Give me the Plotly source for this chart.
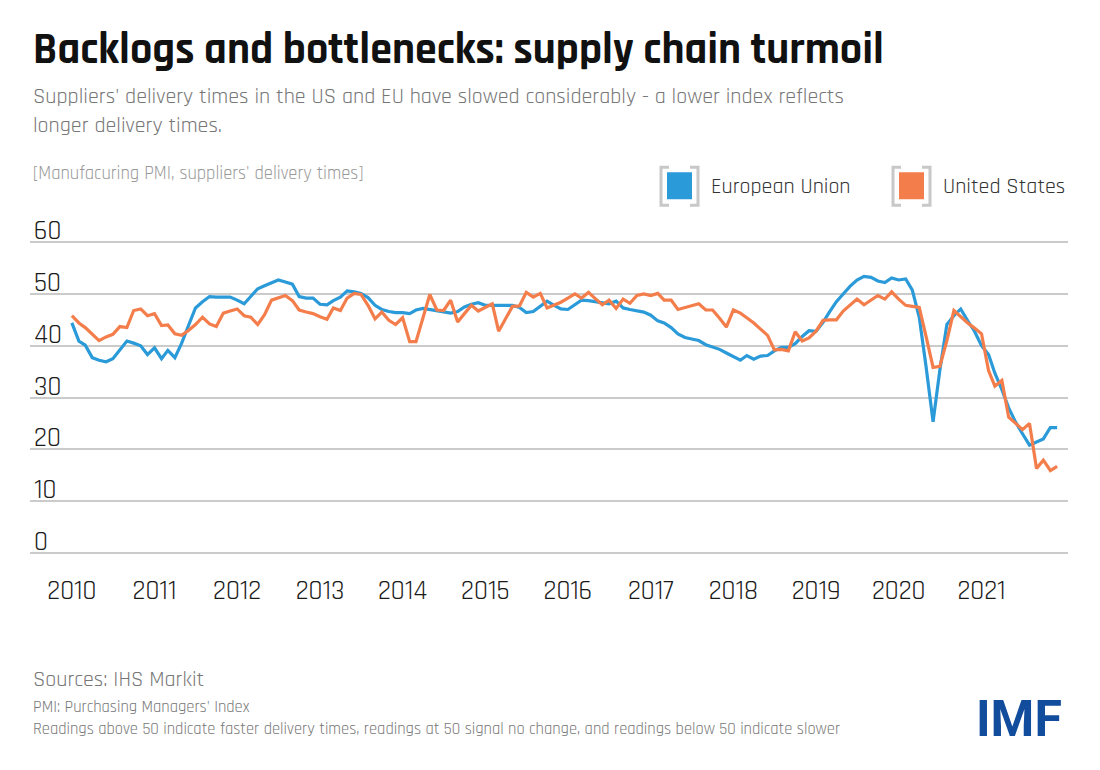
import pandas as pd
import plotly.graph_objects as go

# monthly readings, Jan 2010 - Dec 2021
months = pd.date_range("2010-01-01", "2021-12-01", freq="MS")

eu = [
    44.4, 40.9, 40.1, 37.7, 37.2, 36.9, 37.5, 39.2, 40.9, 40.5, 40.0, 38.3,
    39.6, 37.5, 39.1, 37.7, 40.5, 44.0, 47.3, 48.5, 49.5, 49.4, 49.4, 49.4,
    48.8, 48.1, 49.5, 51.0, 51.6, 52.2, 52.7, 52.3, 51.9, 49.5, 49.2, 49.2,
    48.0, 47.9, 48.7, 49.4, 50.6, 50.4, 50.1, 49.3, 47.8, 47.0, 46.6, 46.4,
    46.4, 46.2, 46.9, 47.2, 47.0, 46.8, 46.5, 46.3, 46.6, 47.5, 48.0, 48.3,
    47.8, 47.8, 47.7, 47.7, 47.8, 47.4, 46.4, 46.6, 47.6, 48.6, 47.8, 47.1,
    47.0, 47.9, 48.8, 48.7, 48.5, 48.3, 48.1, 48.6, 47.3, 47.0, 46.8, 46.5,
    45.9, 44.8, 44.4, 43.5, 42.3, 41.6, 41.3, 41.0, 40.2, 39.8, 39.3, 38.6,
    37.9, 37.2, 38.1, 37.4, 38.0, 38.1, 39.0, 39.7, 39.7, 40.4, 41.8, 42.9,
    42.8, 44.5, 46.5, 48.5, 50.0, 51.5, 52.7, 53.4, 53.2, 52.5, 52.2, 53.1,
    52.7, 52.9, 50.8, 45.5, 36.0, 25.3, 35.3, 44.1, 45.8, 47.1, 44.8, 42.8,
    40.0, 38.3, 34.7, 31.5, 28.0, 25.2, 23.0, 20.8, 21.4, 22.0, 24.2, 24.2,
]

us = [
    45.8, 44.4, 43.5, 42.2, 41.0, 41.7, 42.2, 43.7, 43.5, 46.8, 47.1, 45.8,
    46.2, 43.9, 44.0, 42.3, 42.0, 43.0, 44.1, 45.5, 44.2, 43.7, 46.3, 46.7,
    47.1, 45.8, 45.5, 44.1, 46.0, 48.8, 49.3, 49.7, 48.7, 46.9, 46.5, 46.2,
    45.6, 45.1, 47.3, 46.8, 49.2, 50.1, 49.9, 47.8, 45.2, 46.5, 44.9, 44.1,
    45.4, 40.8, 40.8, 45.3, 49.9, 46.9, 46.8, 48.8, 44.6, 46.2, 47.8, 46.7,
    47.4, 48.1, 42.8, 45.2, 47.6, 47.7, 50.3, 49.4, 50.1, 47.3, 47.9, 48.4,
    49.2, 50.0, 49.2, 50.3, 49.1, 47.9, 48.8, 47.2, 49.0, 48.2, 49.7, 50.0,
    49.7, 50.1, 48.8, 48.8, 47.0, 47.4, 47.8, 48.1, 46.9, 46.9, 45.3, 43.6,
    46.9, 46.3, 45.4, 44.4, 43.2, 42.0, 39.2, 39.3, 39.0, 42.7, 40.9, 41.5,
    42.8, 44.9, 45.0, 45.0, 46.7, 47.8, 49.0, 47.9, 48.8, 49.7, 49.0, 50.4,
    49.0, 47.8, 47.6, 47.4, 41.8, 35.8, 36.0, 41.0, 46.8, 45.6, 44.4, 43.4,
    42.3, 35.2, 32.2, 33.3, 26.2, 25.0, 23.8, 25.0, 16.3, 17.9, 15.9, 16.7,
]

years = [str(y) for y in range(2010, 2022)]
year_starts = [f"{y}-01-01" for y in years]
y_ticks = [0, 10, 20, 30, 40, 50, 60]

EU_COL = "#2b9ad8"
US_COL = "#f47e4b"
FONT = "Rajdhani, Roboto, sans-serif"

# the page adds an 8px body margin, so work in page pixels and shift
OFF = 8
PAD = 5.2  # one y unit in pixels; y range padded by 1 unit each side
L, R = 30 - OFF, 1068 - OFF
T, B = 242 - PAD - OFF, 553 + PAD - OFF


def px(x):
    return (x - OFF - L) / (R - L)


def py(y):
    return (B - (y - OFF)) / (B - T)


fig = go.Figure()
fig.add_trace(go.Scatter(x=months, y=eu, mode="lines", name="European Union",
                         line=dict(color=EU_COL, width=3.2), cliponaxis=False))
fig.add_trace(go.Scatter(x=months, y=us, mode="lines", name="United States",
                         line=dict(color=US_COL, width=3.2), cliponaxis=False))

fig.update_layout(
    width=1100, height=770,
    margin=dict(l=L, r=1100 - R, t=T, b=770 - B),
    plot_bgcolor="white", paper_bgcolor="white",
    showlegend=False,
    font=dict(family=FONT, color="#222"),
)
fig.update_xaxes(range=["2009-06-30", "2022-01-18"], showgrid=False,
                 zeroline=False, showline=False,
                 tickvals=year_starts, ticktext=years,
                 tickfont=dict(size=27, color="#1a1a1a"),
                 ticklabelstandoff=13)
fig.update_yaxes(range=[-1, 61], tickvals=y_ticks, showticklabels=False,
                 showgrid=True, gridcolor="#cbcbcb", gridwidth=1.6,
                 zeroline=False, showline=False)

ann = []
for v in y_ticks:
    ann.append(dict(x=px(32), y=v, xref="paper", yref="y", text=str(v),
                    showarrow=False, xanchor="left", yanchor="bottom",
                    yshift=-8, font=dict(size=27, color="#1a1a1a")))


def txt(x, y, s, size, color, family=FONT):
    ann.append(dict(x=px(x), y=py(y), xref="paper", yref="paper", text=s,
                    showarrow=False, xanchor="left", yanchor="middle",
                    font=dict(size=size, color=color, family=family)))


txt(31, 50, "<b>Backlogs and bottlenecks: supply chain turmoil</b>", 44, "#111")
txt(31, 97, "Suppliers' delivery times in the US and EU have slowed considerably - a lower index reflects",
    22, "#777")
txt(31, 126, "longer delivery times.", 22, "#777")
txt(31, 173, "[Manufacuring PMI, suppliers' delivery times]", 18.5, "#999")
txt(709, 187, "European Union", 22, "#333")
txt(941, 187, "United States", 22, "#333")
txt(31, 680, "Sources: IHS Markit", 22, "#777")
txt(31, 708, "PMI: Purchasing Managers' Index", 16.5, "#777")
txt(31, 730, "Readings above 50 indicate faster delivery times, readings at 50 signal no change, "
    "and readings below 50 indicate slower", 16.5, "#777")
txt(974, 719, "<b>IMF</b>", 50, "#124c9c", family="Roboto, sans-serif")
fig.update_layout(annotations=ann)

# legend swatches with grey brackets
shapes = []
for x0, col in [(661, EU_COL), (893, US_COL)]:
    for side in (0, 1):
        xa = x0 if side == 0 else x0 + 37
        xb = xa + 8 if side == 0 else xa - 8
        path = (f"M {px(xb)},{py(167)} L {px(xa)},{py(167)} "
                f"L {px(xa)},{py(205)} L {px(xb)},{py(205)}")
        shapes.append(dict(type="path", path=path, xref="paper", yref="paper",
                           line=dict(color="#c8c8c8", width=3)))
    shapes.append(dict(type="rect", xref="paper", yref="paper",
                       x0=px(x0 + 5), x1=px(x0 + 32), y0=py(171), y1=py(200),
                       fillcolor=col, line=dict(color="white", width=2)))
fig.update_layout(shapes=shapes)

fig.write_html("out.html")
